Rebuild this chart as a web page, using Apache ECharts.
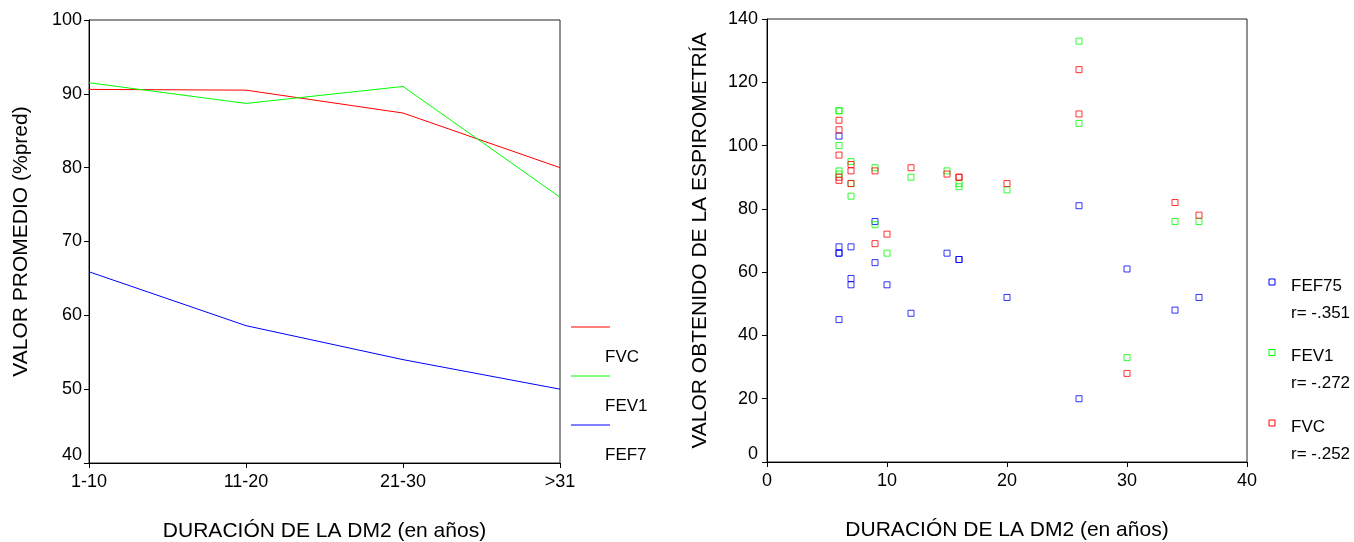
<!DOCTYPE html>
<html>
<head>
<meta charset="utf-8">
<script src="https://cdn.jsdelivr.net/npm/echarts@6/dist/echarts.min.js"></script>
<style>
  html, body { margin: 0; padding: 0; background: #fff; }
  #chart { width: 1354px; height: 542px; }
</style>
</head>
<body>
<div id="chart"></div>
<script>
// Mean spirometry values (% predicted) by duration of type 2 diabetes
const durationGroups = ['1-10', '11-20', '21-30', '>31'];
const meanFVC   = [90.6, 90.5, 87.4, 80.0];
const meanFEV1  = [91.5, 88.7, 91.0, 76.0];
const meanFEF75 = [65.9, 58.6, 54.0, 50.0];
const lineNames = ['FVC', 'FEV1', 'FEF7'];

// Individual patients: years since diagnosis and measured values
const patientYears = [6, 6, 6, 6, 6, 7, 7, 7, 9, 9, 10, 12, 15, 16, 16, 20, 26, 26, 30, 34, 36];
const valuesFEF75  = [103, 68, 66, 66, 45, 68, 58, 56, 76, 63, 56, 47, 66, 64, 64, 52, 81, 20, 61, 48, 52];
const valuesFEV1   = [111, 111, 100, 92, 91, 95, 88, 84, 93, 75, 66, 90, 92, 88, 87, 86, 133, 107, 33, 76, 76];
const valuesFVC    = [108, 105, 97, 90, 89, 94, 92, 88, 92, 69, 72, 93, 91, 90, 90, 88, 124, 110, 28, 82, 78];
const scatterNames = ['FEF75', 'FEV1', 'FVC'];
const correlations = ['r= -.351', 'r= -.272', 'r= -.252'];

const RED = '#ff0000', GREEN = '#00ff00', BLUE = '#0000ff';
const FONT = "'Liberation Sans', Arial, sans-serif";

const pairs = vals => patientYears.map((x, i) => [x, vals[i]]);

const axisText = { color: '#000', fontFamily: FONT, fontSize: 18 };
const lowLabel = { lo: { color: '#000', fontFamily: FONT, fontSize: 18, padding: [0, 0, 16, 0] } };
const titleText = { color: '#000', fontFamily: FONT, fontSize: 21 };

const scatterSeries = (name, vals, color) => ({
  name, type: 'scatter', xAxisIndex: 1, yAxisIndex: 1,
  data: pairs(vals), symbol: 'rect', symbolSize: 6,
  itemStyle: { color: 'rgba(0,0,0,0)', borderColor: color, borderWidth: 1 },
  emphasis: { disabled: true }
});

const lineSeries = (name, vals, color) => ({
  name, type: 'line', xAxisIndex: 0, yAxisIndex: 0,
  data: vals, showSymbol: false, symbol: 'none',
  lineStyle: { color, width: 1 }, itemStyle: { color },
  emphasis: { disabled: true }
});

// Hand-placed legends next to each panel
const lineColors = [RED, GREEN, BLUE];
const legendGraphics = [];
lineColors.forEach((c, i) => {
  legendGraphics.push({
    type: 'line', shape: { x1: 571, y1: 327 + i * 49, x2: 610, y2: 327 + i * 49 },
    style: { stroke: c, lineWidth: 1 }
  });
  legendGraphics.push({
    type: 'text', x: 605, y: 357 + i * 49,
    style: { text: lineNames[i], fill: '#000', font: `17px ${FONT}`, verticalAlign: 'middle' }
  });
});
const dotColors = [BLUE, GREEN, RED];
dotColors.forEach((c, i) => {
  const y0 = 282 + i * 70.5;
  legendGraphics.push({
    type: 'rect', shape: { x: 1269, y: y0 - 3, width: 6, height: 6 },
    style: { fill: 'none', stroke: c, lineWidth: 1 }
  });
  legendGraphics.push({
    type: 'text', x: 1291, y: y0 + 4,
    style: { text: scatterNames[i], fill: '#000', font: `17px ${FONT}`, verticalAlign: 'middle' }
  });
  legendGraphics.push({
    type: 'text', x: 1291, y: y0 + 31,
    style: { text: correlations[i], fill: '#000', font: `17px ${FONT}`, verticalAlign: 'middle' }
  });
});

const option = {
  animation: false,
  backgroundColor: '#fff',
  textStyle: { fontFamily: FONT },
  grid: [
    { left: 89, top: 20, width: 471, height: 443, outerBoundsMode: 'none', containLabel: false,
      show: true, borderColor: '#222', borderWidth: 1, backgroundColor: 'transparent' },
    { left: 767, top: 19, width: 480, height: 443, outerBoundsMode: 'none', containLabel: false,
      show: true, borderColor: '#222', borderWidth: 1, backgroundColor: 'transparent' }
  ],
  xAxis: [
    {
      type: 'category', gridIndex: 0, data: durationGroups, boundaryGap: false,
      name: 'DURACIÓN DE LA DM2 (en años)', nameLocation: 'middle', nameGap: 58,
      nameTextStyle: titleText,
      axisLine: { lineStyle: { color: '#000', width: 1 } },
      axisTick: { show: true, length: 5, alignWithLabel: true, lineStyle: { color: '#000' } },
      axisLabel: { ...axisText, margin: 10 },
      splitLine: { show: false }
    },
    {
      type: 'value', gridIndex: 1, min: 0, max: 40, interval: 10,
      name: 'DURACIÓN DE LA DM2 (en años)', nameLocation: 'middle', nameGap: 58,
      nameTextStyle: titleText,
      axisLine: { lineStyle: { color: '#000', width: 1 } },
      axisTick: { show: true, length: 5, lineStyle: { color: '#000' } },
      axisLabel: { ...axisText, margin: 10 },
      splitLine: { show: false }
    }
  ],
  yAxis: [
    {
      type: 'value', gridIndex: 0, min: 40, max: 100, interval: 10,
      name: 'VALOR PROMEDIO (%pred)', nameLocation: 'middle', nameGap: 57,
      nameTextStyle: titleText,
      axisLine: { show: true, lineStyle: { color: '#000', width: 1 } },
      axisTick: { show: true, length: 5, lineStyle: { color: '#000' } },
      axisLabel: { ...axisText, margin: 7, formatter: v => v === 40 ? '{lo|40}' : String(v), rich: lowLabel },
      splitLine: { show: false }
    },
    {
      type: 'value', gridIndex: 1, min: 0, max: 140, interval: 20,
      name: 'VALOR OBTENIDO DE LA ESPIROMETRÍA', nameLocation: 'middle', nameGap: 56,
      nameTextStyle: titleText,
      axisLine: { show: true, lineStyle: { color: '#000', width: 1 } },
      axisTick: { show: true, length: 5, lineStyle: { color: '#000' } },
      axisLabel: { ...axisText, margin: 9, formatter: v => v === 0 ? '{lo|0}' : String(v), rich: lowLabel },
      splitLine: { show: false }
    }
  ],
  series: [
    lineSeries('FVC', meanFVC, RED),
    lineSeries('FEV1', meanFEV1, GREEN),
    lineSeries('FEF75', meanFEF75, BLUE),
    scatterSeries('FEF75', valuesFEF75, BLUE),
    scatterSeries('FEV1', valuesFEV1, GREEN),
    scatterSeries('FVC', valuesFVC, RED)
  ],
  graphic: legendGraphics
};

const chart = echarts.init(document.getElementById('chart'), null, { renderer: 'canvas' });
chart.setOption(option);
</script>
</body>
</html>
